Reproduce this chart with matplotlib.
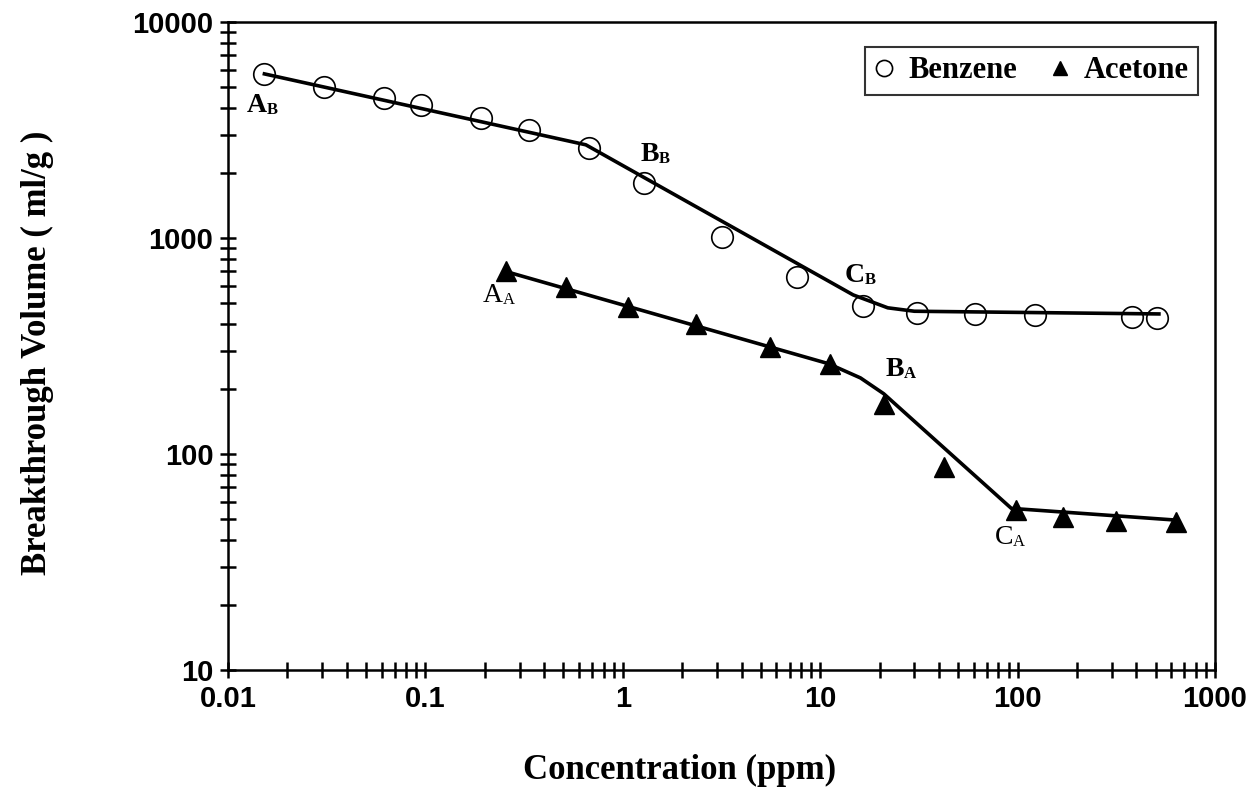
# Breakthrough volume vs concentration, log-log, benzene and acetone

import matplotlib.pyplot as plt
import numpy as np

# measured points
benzene_x = [0.0153, 0.0308, 0.062, 0.0946, 0.191, 0.335, 0.678, 1.285, 3.19, 7.6, 16.4, 30.8, 60.8, 122.5, 378, 507]
benzene_y = [5750, 4990, 4470, 4130, 3600, 3150, 2600, 1800, 1010, 662, 484, 448, 445, 440, 432, 425]

acetone_x = [0.255, 0.514, 1.059, 2.35, 5.57, 11.2, 21.1, 42.4, 98, 170.6, 315, 634]
acetone_y = [700, 595, 481, 400, 312, 261, 170, 87.4, 55, 51, 49.1, 48.6]

# hand drawn trend lines (vertices)
benzene_fit_x = [0.0153, 0.65, 14.7, 22, 30, 520]
benzene_fit_y = [5750, 2700, 545, 475, 458, 445]

acetone_fit_x = [0.255, 11, 16, 21, 93, 640]
acetone_fit_y = [700, 262, 225, 190, 56, 49.4]

# point labels: (main letter, subscript, series, point index, offset px, bold)
labels = [
    ("A", "B", "benzene", 0, (-18, -44), True),
    ("B", "B", "benzene", 7, (-4, 16), True),
    ("C", "B", "benzene", 10, (-18, 18), True),
    ("A", "A", "acetone", 0, (-23, -37), False),
    ("B", "A", "acetone", 6, (1, 22), True),
    ("C", "A", "acetone", 8, (-21, -40), False),
]

serif = ["Liberation Serif", "DejaVu Serif"]
sans = ["Liberation Sans", "DejaVu Sans"]

fig = plt.figure(figsize=(12.58, 8.08), dpi=100)
ax = fig.add_axes([0.1812, 0.1708, 0.7846, 0.802])

ax.plot(benzene_fit_x, benzene_fit_y, color="black", lw=2.6, zorder=2)
ax.plot(acetone_fit_x, acetone_fit_y, color="black", lw=2.6, zorder=2)

ax.plot(benzene_x, benzene_y, linestyle="none", marker="o", ms=15.5,
        mfc="none", mec="black", mew=1.2, label="Benzene", zorder=3)
ax.plot(acetone_x, acetone_y, linestyle="none", marker="^", ms=14,
        mfc="black", mec="black", label="Acetone", zorder=3)

ax.set_xscale("log")
ax.set_yscale("log")
ax.set_xlim(0.01, 1000)
ax.set_ylim(10, 10000)

ax.set_xticks([0.01, 0.1, 1, 10, 100, 1000])
ax.set_xticklabels(["0.01", "0.1", "1", "10", "100", "1000"])
ax.set_yticks([10, 100, 1000, 10000])
ax.set_yticklabels(["10", "100", "1000", "10000"])

for spine in ax.spines.values():
    spine.set_linewidth(1.8)

ax.tick_params(which="both", direction="inout", length=11, width=1.8, color="black")
ax.tick_params(which="both", top=False, right=False)
ax.tick_params(axis="both", which="major", pad=5)
for lab in ax.get_xticklabels() + ax.get_yticklabels():
    lab.set_family(sans)
    lab.set_fontweight("bold")
    lab.set_fontsize(21)

ax.set_xlabel("Concentration (ppm)", family=serif, fontweight="bold", fontsize=25)
ax.set_ylabel("Breakthrough Volume ( ml/g )", family=serif, fontweight="bold", fontsize=25)
ax.xaxis.set_label_coords(0.458, -0.13)
ax.yaxis.set_label_coords(-0.176, 0.49)

series = {"benzene": (benzene_x, benzene_y), "acetone": (acetone_x, acetone_y)}
for main, sub, name, idx, off, bold in labels:
    xs, ys = series[name]
    w = "bold" if bold else "normal"
    t = ax.annotate(main, xy=(xs[idx], ys[idx]), xytext=off, textcoords="offset pixels",
                    family=serif, fontweight=w, fontsize=20, ha="left", va="bottom")
    ax.annotate(sub, xy=(1, 0), xycoords=t, family=serif, fontweight=w,
                fontsize=12, ha="left", va="bottom")

leg = ax.legend(loc="upper right", bbox_to_anchor=(0.983, 0.961), borderaxespad=0, ncol=2,
                prop={"family": serif, "weight": "bold", "size": 22},
                frameon=True, fancybox=False, handlelength=0.6, handletextpad=0.5,
                columnspacing=1.1, borderpad=0.3, markerscale=0.75)
leg.get_frame().set_edgecolor("black")
leg.get_frame().set_linewidth(1.5)

fig.savefig("out.png", dpi=100)
